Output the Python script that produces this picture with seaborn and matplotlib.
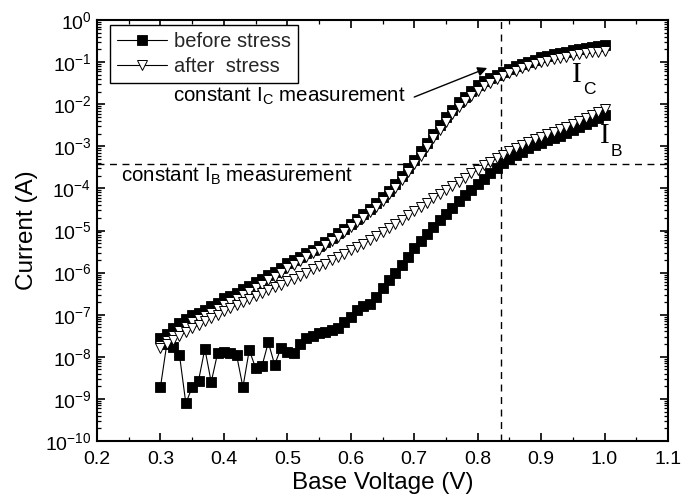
import matplotlib
matplotlib.use("Agg")
import matplotlib.pyplot as plt
import numpy as np
import pandas as pd
import seaborn as sns
from matplotlib.lines import Line2D
from matplotlib.ticker import LogLocator, MultipleLocator, NullFormatter, FormatStrFormatter

# Base-emitter sweep (V)
base_voltage = [
    0.30, 0.31, 0.32, 0.33, 0.34, 0.35, 0.36, 0.37, 0.38, 0.39,
    0.40, 0.41, 0.42, 0.43, 0.44, 0.45, 0.46, 0.47, 0.48, 0.49,
    0.50, 0.51, 0.52, 0.53, 0.54, 0.55, 0.56, 0.57, 0.58, 0.59,
    0.60, 0.61, 0.62, 0.63, 0.64, 0.65, 0.66, 0.67, 0.68, 0.69,
    0.70, 0.71, 0.72, 0.73, 0.74, 0.75, 0.76, 0.77, 0.78, 0.79,
    0.80, 0.81, 0.82, 0.83, 0.84, 0.85, 0.86, 0.87, 0.88, 0.89,
    0.90, 0.91, 0.92, 0.93, 0.94, 0.95, 0.96, 0.97, 0.98, 0.99,
    1.00,
]

# Collector current before stress (A)
ic_before = [
    2.8e-8, 3.5e-8, 4.8e-8, 6.3e-8, 7.9e-8, 1.0e-7, 1.1e-7, 1.3e-7, 1.6e-7, 1.9e-7,
    2.5e-7, 2.8e-7, 3.3e-7, 4.0e-7, 4.8e-7, 5.9e-7, 7.1e-7, 8.7e-7, 1.05e-6, 1.3e-6,
    1.7e-6, 2.0e-6, 2.4e-6, 2.9e-6, 3.5e-6, 4.3e-6, 5.4e-6, 6.8e-6, 8.5e-6, 1.1e-5,
    1.4e-5, 1.9e-5, 2.5e-5, 3.3e-5, 4.5e-5, 6.2e-5, 8.9e-5, 1.3e-4, 2.0e-4, 3.0e-4,
    4.7e-4, 7.6e-4, 1.2e-3, 2.0e-3, 3.2e-3, 4.9e-3, 7.4e-3, 1.1e-2, 1.5e-2, 2.1e-2,
    2.8e-2, 3.5e-2, 4.3e-2, 5.0e-2, 5.9e-2, 6.9e-2, 7.9e-2, 9.1e-2, 0.102, 0.115,
    0.129, 0.141, 0.155, 0.166, 0.178, 0.191, 0.204, 0.219, 0.229, 0.240,
    0.251,
]

# Collector current after stress (A)
ic_after = [
    1.8e-8, 2.4e-8, 3.2e-8, 4.2e-8, 5.2e-8, 6.6e-8, 7.9e-8, 9.5e-8, 1.1e-7, 1.35e-7,
    1.7e-7, 2.0e-7, 2.4e-7, 2.9e-7, 3.5e-7, 4.3e-7, 5.2e-7, 6.5e-7, 7.9e-7, 1.0e-6,
    1.26e-6, 1.55e-6, 1.9e-6, 2.3e-6, 2.9e-6, 3.5e-6, 4.5e-6, 5.6e-6, 7.1e-6, 9.1e-6,
    1.2e-5, 1.55e-5, 2.0e-5, 2.8e-5, 3.7e-5, 5.1e-5, 7.2e-5, 1.05e-4, 1.6e-4, 2.4e-4,
    3.7e-4, 5.9e-4, 9.5e-4, 1.55e-3, 2.5e-3, 3.8e-3, 5.8e-3, 8.5e-3, 1.2e-2, 1.6e-2,
    2.1e-2, 2.7e-2, 3.2e-2, 3.9e-2, 4.6e-2, 5.4e-2, 6.2e-2, 7.1e-2, 7.9e-2, 8.9e-2,
    9.8e-2, 0.107, 0.117, 0.126, 0.135, 0.145, 0.155, 0.162, 0.170, 0.178,
    0.186,
]

# Base current before stress (A)
ib_before = [
    1.9e-9, 2.0e-8, 1.7e-8, 1.1e-8, 7.9e-10, 1.9e-9, 2.7e-9, 1.55e-8, 2.5e-9, 1.2e-8,
    1.3e-8, 1.2e-8, 1.1e-8, 1.9e-9, 1.45e-8, 5.4e-9, 6.0e-9, 2.2e-8, 6.5e-9, 1.6e-8,
    1.3e-8, 1.2e-8, 2.0e-8, 2.8e-8, 3.1e-8, 3.7e-8, 3.9e-8, 4.4e-8, 4.8e-8, 6.8e-8,
    8.9e-8, 1.3e-7, 1.6e-7, 1.8e-7, 2.6e-7, 4.3e-7, 6.6e-7, 1.0e-6, 1.5e-6, 2.3e-6,
    3.8e-6, 5.6e-6, 8.3e-6, 1.2e-5, 1.8e-5, 2.5e-5, 3.5e-5, 4.9e-5, 6.8e-5, 9.3e-5,
    1.26e-4, 1.7e-4, 2.3e-4, 3.0e-4, 4.0e-4, 5.0e-4, 6.2e-4, 7.4e-4, 8.9e-4, 1.05e-3,
    1.2e-3, 1.4e-3, 1.6e-3, 1.8e-3, 2.1e-3, 2.4e-3, 2.8e-3, 3.3e-3, 3.9e-3, 4.6e-3,
    5.4e-3,
]

# Base current after stress (A)
ib_after = [
    1.6e-8, 2.0e-8, 2.5e-8, 3.2e-8, 3.9e-8, 4.8e-8, 5.8e-8, 6.9e-8, 8.3e-8, 1.0e-7,
    1.2e-7, 1.45e-7, 1.7e-7, 2.0e-7, 2.3e-7, 2.75e-7, 3.2e-7, 3.8e-7, 4.5e-7, 5.2e-7,
    6.2e-7, 7.2e-7, 8.5e-7, 1.0e-6, 1.2e-6, 1.4e-6, 1.6e-6, 1.95e-6, 2.3e-6, 2.8e-6,
    3.4e-6, 4.1e-6, 4.9e-6, 6.0e-6, 7.4e-6, 9.1e-6, 1.15e-5, 1.45e-5, 1.8e-5, 2.3e-5,
    2.9e-5, 3.6e-5, 4.6e-5, 5.8e-5, 7.2e-5, 9.1e-5, 1.15e-4, 1.45e-4, 1.8e-4, 2.3e-4,
    2.8e-4, 3.5e-4, 4.3e-4, 5.2e-4, 6.3e-4, 7.6e-4, 9.1e-4, 1.07e-3, 1.26e-3, 1.5e-3,
    1.7e-3, 1.95e-3, 2.2e-3, 2.6e-3, 2.95e-3, 3.4e-3, 4.0e-3, 4.7e-3, 5.5e-3, 6.5e-3,
    7.6e-3,
]

# Bias points used for the constant-current measurements
vbe_constant_ic = 0.837
ib_constant = 3.8e-4

sns.set_theme(style="ticks")
plt.rcParams["font.family"] = ["Liberation Sans", "DejaVu Sans"]
plt.rcParams["mathtext.fontset"] = "custom"
plt.rcParams["mathtext.rm"] = "Liberation Sans"
plt.rcParams["mathtext.it"] = "Liberation Sans:italic"
plt.rcParams["mathtext.bf"] = "Liberation Sans:bold"

fig = plt.figure(figsize=(6.92, 4.99), dpi=100, facecolor="white")
ax = fig.add_axes([97 / 692, 1 - 441 / 499, (668 - 97) / 692, (441 - 20) / 499])

df = pd.DataFrame({
    "V": base_voltage,
    "ic_before": ic_before,
    "ib_before": ib_before,
    "ic_after": ic_after,
    "ib_after": ib_after,
})

filled = dict(color="black", marker="s", markersize=7.0, markerfacecolor="black",
              markeredgecolor="black", markeredgewidth=0.6, linewidth=0.8)
hollow = dict(color="black", marker="v", markersize=7.6, markerfacecolor="white",
              markeredgecolor="black", markeredgewidth=0.7, linewidth=0.8)

for col in ["ic_before", "ib_before"]:
    sns.lineplot(data=df, x="V", y=col, ax=ax, estimator=None, sort=False,
                 legend=False, **filled)
for col in ["ic_after", "ib_after"]:
    sns.lineplot(data=df, x="V", y=col, ax=ax, estimator=None, sort=False,
                 legend=False, **hollow)

ax.set_yscale("log")
ax.set_xlim(0.2, 1.1)
ax.set_ylim(1e-10, 1)

ax.xaxis.set_major_locator(MultipleLocator(0.1))
ax.xaxis.set_minor_locator(MultipleLocator(0.05))
ax.xaxis.set_major_formatter(FormatStrFormatter("%.1f"))
ax.yaxis.set_major_locator(LogLocator(base=10, numticks=30))
ax.yaxis.set_minor_locator(LogLocator(base=10, subs=np.arange(2, 10), numticks=300))
ax.yaxis.set_minor_formatter(NullFormatter())

ax.tick_params(which="both", direction="in", top=True, right=True, colors="black",
               labelsize=14)
ax.tick_params(axis="x", which="major", pad=7)
ax.tick_params(axis="y", which="major", pad=4)
ax.tick_params(which="major", length=6, width=1.2)
ax.tick_params(which="minor", length=3, width=0.9)
for sp in ax.spines.values():
    sp.set_linewidth(1.5)
    sp.set_color("black")

ax.set_xlabel("Base Voltage (V)", fontsize=17.5, color="black", labelpad=3)
ax.set_ylabel("Current (A)", fontsize=17.5, color="black", labelpad=5)

# Constant-current bias markers
ax.axvline(vbe_constant_ic, color="black", linestyle=(0, (5, 4)), linewidth=1.0, zorder=1)
ax.axhline(ib_constant, color="black", linestyle=(0, (5, 4)), linewidth=1.0, zorder=1)

ax.text(0.32, 10 ** -1.94, r"constant I$_\mathregular{C}$ measurement",
        fontsize=14.8, color="black", va="baseline", ha="left")
ax.text(0.238, 10 ** -3.85, r"constant I$_\mathregular{B}$ measurement",
        fontsize=14.8, color="black", va="baseline", ha="left")
ax.annotate("", xy=(0.815, 10 ** -1.14), xytext=(0.700, 10 ** -1.83),
            arrowprops=dict(arrowstyle="-|>", color="black", lw=1.0,
                            mutation_scale=14, shrinkA=0, shrinkB=0))

# Curve identifiers
ax.text(0.956, 10 ** -1.47, "I", family=["Liberation Serif", "DejaVu Serif"],
        fontsize=21, color="black", ha="center", va="baseline")
ax.text(0.966, 10 ** -1.76, "C", fontsize=12.5, color="black", ha="left", va="baseline")
ax.text(1.0005, 10 ** -2.92, "I", family=["Liberation Serif", "DejaVu Serif"],
        fontsize=21, color="black", ha="center", va="baseline")
ax.text(1.010, 10 ** -3.24, "B", fontsize=12.5, color="black", ha="left", va="baseline")

handles = [
    Line2D([], [], **filled),
    Line2D([], [], **hollow),
]
leg = ax.legend(handles, ["before stress", "after  stress"], loc="upper left",
                bbox_to_anchor=(13 / 571, 1 - 5 / 421), fontsize=14.5,
                frameon=True, fancybox=False, framealpha=1, edgecolor="black",
                handlelength=2.5, handletextpad=0.35, borderpad=0.35,
                labelspacing=0.3, borderaxespad=0)
leg.get_frame().set_linewidth(1.0)

fig.savefig("out.png", dpi=100, facecolor="white")
